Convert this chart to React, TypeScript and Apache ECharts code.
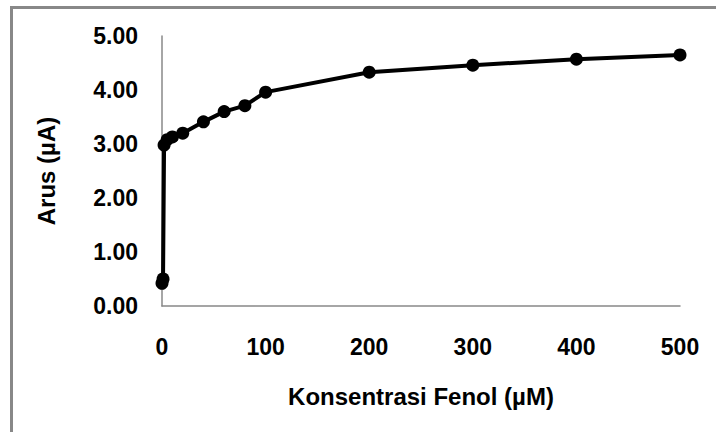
import React, { useEffect, useRef } from "react";
import * as echarts from "echarts";

const concentrations = [0, 1, 2, 5, 10, 20, 40, 60, 80, 100, 200, 300, 400, 500];
const currents = [0.42, 0.5, 2.98, 3.08, 3.13, 3.2, 3.41, 3.6, 3.71, 3.96, 4.33, 4.46, 4.57, 4.65];
const xTitle = "Konsentrasi Fenol (µM)";
const yTitle = "Arus (µA)";

export default function App() {
  const ref = useRef<HTMLDivElement>(null);
  useEffect(() => {
    if (!ref.current) return;
    const chart = echarts.init(ref.current, undefined, { renderer: "svg" });
    const font = "'Liberation Sans', Arial, sans-serif";
    chart.setOption({
      animation: false,
      backgroundColor: "#ffffff",
      grid: { left: 162, right: 36, top: 36, bottom: 126, containLabel: false },
      xAxis: {
        type: "value",
        min: 0,
        max: 500,
        interval: 100,
        name: xTitle,
        nameLocation: "middle",
        nameGap: 78,
        nameTextStyle: { fontFamily: font, fontWeight: "bold", fontSize: 24, color: "#000" },
        axisLine: { show: true, lineStyle: { color: "#888888", width: 1.5 } },
        axisTick: { show: false },
        splitLine: { show: false },
        axisLabel: { fontFamily: font, fontWeight: "bold", fontSize: 23, color: "#000", margin: 29 },
      },
      yAxis: {
        type: "value",
        min: 0,
        max: 5,
        interval: 1,
        name: yTitle,
        nameLocation: "middle",
        nameGap: 104,
        nameRotate: 90,
        nameTextStyle: { fontFamily: font, fontWeight: "bold", fontSize: 24, color: "#000" },
        axisLine: { show: true, lineStyle: { color: "#888888", width: 1.5 } },
        axisTick: { show: false },
        splitLine: { show: false },
        axisLabel: {
          fontFamily: font,
          fontWeight: "bold",
          fontSize: 23,
          color: "#000",
          margin: 24,
          formatter: (v: number) => v.toFixed(2),
        },
      },
      graphic: [
        {
          type: "rect",
          shape: { x: 11.5, y: 7.5, width: 760, height: 480 },
          style: { fill: "none", stroke: "#888888", lineWidth: 3 },
          silent: true,
        },
      ],
      series: [
        {
          type: "line",
          data: concentrations.map((c, i) => [c, currents[i]]),
          symbol: "circle",
          symbolSize: 13,
          itemStyle: { color: "#000" },
          lineStyle: { color: "#000", width: 4 },
        },
      ],
    });
    return () => chart.dispose();
  }, []);
  return <div ref={ref} style={{ position: "fixed", left: 0, top: 0, width: 716, height: 432 }} />;
}
